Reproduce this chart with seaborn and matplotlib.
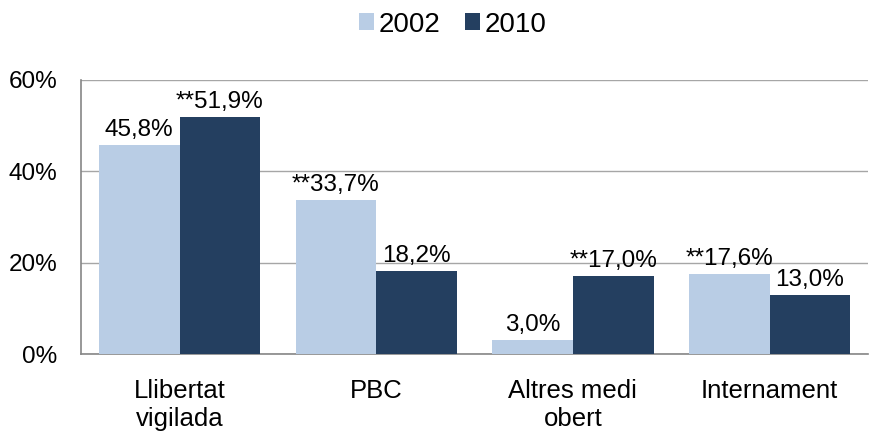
#load libraries
import pandas as pd
import seaborn as sns
import matplotlib.pyplot as plt
from matplotlib.ticker import FixedLocator, PercentFormatter

# data
categories = ['Llibertat\nvigilada', 'PBC', 'Altres medi\nobert', 'Internament']
years = ['2002', '2010']
values_2002 = [45.8, 33.7, 3.0, 17.6]
values_2010 = [51.9, 18.2, 17.0, 13.0]
labels_2002 = ['45,8%', '**33,7%', '3,0%', '**17,6%']
labels_2010 = ['**51,9%', '18,2%', '**17,0%', '13,0%']

df = pd.DataFrame({
    'categoria': categories * 2,
    'any': [years[0]] * 4 + [years[1]] * 4,
    'valor': values_2002 + values_2010,
})

sns.set_style('white')
plt.rcParams['font.family'] = ['Liberation Sans', 'DejaVu Sans']
plt.rcParams['text.color'] = '#000000'

fig = plt.figure(figsize=(8.74, 4.34), dpi=100)
ax = fig.add_axes([0.093, 0.184, 0.900, 0.632])

palette = {'2002': '#B9CDE5', '2010': '#243F60'}
sns.barplot(data=df, x='categoria', y='valor', hue='any', palette=palette,
            width=0.82, saturation=1, linewidth=0, ax=ax, zorder=3)

# value labels
for cont, labs in zip(ax.containers, [labels_2002, labels_2010]):
    ax.bar_label(cont, labels=labs, padding=3, fontsize=17.5, color='#000000')

ax.set_ylim(0, 60)
ax.set_xlim(-0.5, 3.5)
ax.set_yticks([0, 20, 40, 60])
ax.yaxis.set_major_formatter(PercentFormatter(decimals=0))
ax.yaxis.grid(True, color='#A6A6A6', linewidth=1, zorder=0)
ax.set_xlabel('')
ax.set_ylabel('')

for side in ['top', 'right']:
    ax.spines[side].set_visible(False)
for side in ['left', 'bottom']:
    ax.spines[side].set_color('#868686')
    ax.spines[side].set_linewidth(1.2)

ax.tick_params(axis='y', length=6, color='#868686', labelsize=17.5, pad=11, labelcolor='#000000')
ax.tick_params(axis='x', which='major', length=0, labelsize=18.5, pad=18, labelcolor='#000000')
ax.xaxis.set_minor_locator(FixedLocator([-0.5, 0.5, 1.5, 2.5, 3.5]))
ax.tick_params(axis='x', which='minor', length=6, color='#868686')

leg = ax.legend(loc='upper center', bbox_to_anchor=(0.472, 1.34), ncol=2, frameon=False,
                fontsize=20, handlelength=0.55, handleheight=0.55, handletextpad=0.15,
                columnspacing=0.9)
for t in leg.get_texts():
    t.set_color('#000000')

fig.savefig('out.png', dpi=100)
